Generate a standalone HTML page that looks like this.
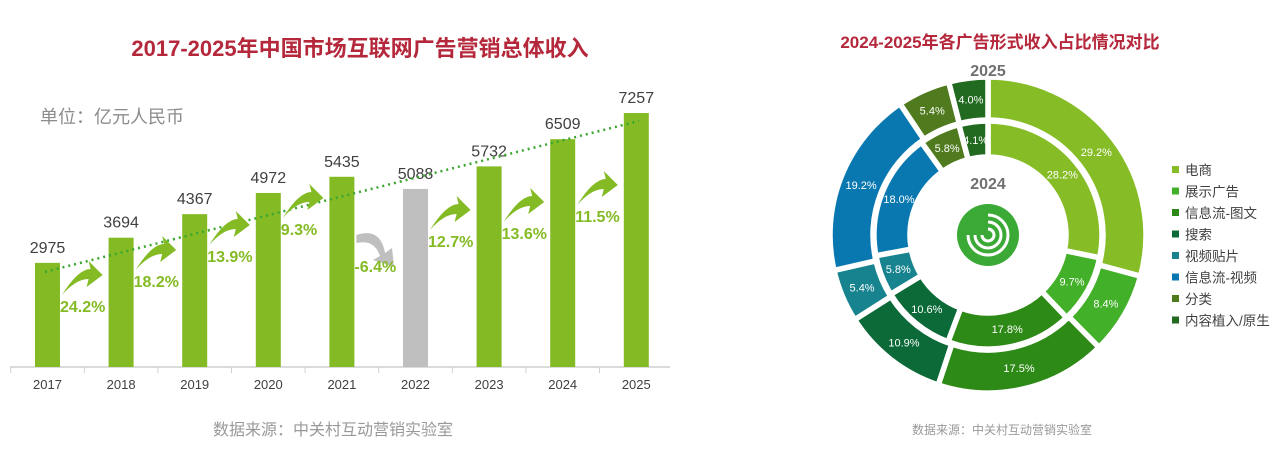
<!DOCTYPE html>
<html><head><meta charset="utf-8"><style>
body{margin:0;background:#fff;width:1280px;height:470px;overflow:hidden;font-family:"Liberation Sans","Noto Sans CJK SC",sans-serif}
svg{position:absolute;left:0;top:0}
</style></head><body>
<svg id="c" width="1280" height="470"></svg>
<script>
const years=["2017","2018","2019","2020","2021","2022","2023","2024","2025"];
const revenue=[2975,3694,4367,4972,5435,5088,5732,6509,7257];
const growth=["24.2%","18.2%","13.9%","9.3%","-6.4%","12.7%","13.6%","11.5%"];
const growthY=[305,280,255,228,265,240,232,215];
const categories=["电商","展示广告","信息流-图文","搜索","视频贴片","信息流-视频","分类","内容植入/原生"];
const share2025=[29.2,8.4,17.5,10.9,5.4,19.2,5.4,4.0];
const share2024=[28.2,9.7,17.8,10.6,5.8,18.0,5.8,4.1];
const colors=["#86bc25","#43b02a","#2e8a17","#0b6a38","#17838f","#0a78b0","#4f7a1d","#226a1f"];

const NS="http://www.w3.org/2000/svg";const svg=document.getElementById('c');
function el(t,a,txt){const e=document.createElementNS(NS,t);for(const k in a)e.setAttribute(k,a[k]);if(txt!==undefined)e.textContent=txt;svg.appendChild(e);return e;}
const base=367,scale=254/7257,x0=35,step=73.6,bw=25;
const xOf=i=>x0+i*step, yOf=v=>base-v*scale;
let t;
t=el('text',{x:360,y:56,'text-anchor':'middle','font-size':22,'font-weight':'bold',fill:'#b5283c'},'2017-2025年中国市场互联网广告营销总体收入');


t=el('text',{x:40,y:123,'font-size':18,fill:'#8c8c8c'},'单位：亿元人民币');


t=el('line',{x1:10,y1:base,x2:670,y2:base,stroke:'#cfcfcf','stroke-width':1.5});


years.forEach((y,i)=>{
 const cx=xOf(i)+bw/2;
 const tk=el('line',{x1:cx-step/2,y1:base,x2:cx-step/2,y2:base+6,stroke:'#cfcfcf'});
 
 
 const r=el('rect',{x:xOf(i),y:yOf(revenue[i]),width:bw,height:revenue[i]*scale,fill:i==5?'#bfbfbf':'#84bb25'});
 
 
 const v=el('text',{x:cx,y:yOf(revenue[i])-10,'text-anchor':'middle','font-size':16,fill:'#404040'},revenue[i]);
 
 
 const l=el('text',{x:cx,y:389,'text-anchor':'middle','font-size':13,fill:'#404040'},y);
 
 
});
t=el('line',{x1:xOf(0)+10,y1:yOf(revenue[0])+9,x2:xOf(8)+15,y2:yOf(revenue[8])+8,stroke:'#3aa62e','stroke-width':2.5,'stroke-dasharray':'2,4'});


growth.forEach((g,i)=>{
 const ly=growthY[i],xs=xOf(i)+bw+2,xe=xOf(i+1)-6;const neg=g[0]=='-';
 const c=neg?'#bfbfbf':'#84bb25';
 let p;
 if(!neg)p=`M${xs},${ly-10} Q${xs+16},${ly-36} ${xe-12},${ly-36} L${xe-14},${ly-44} L${xe},${ly-30} L${xe-16},${ly-18} L${xe-14},${ly-26} Q${xs+14},${ly-26} ${xs},${ly-10}Z`;
 else p=`M${xs},${ly-30} Q${xs+24},${ly-38} ${xe-12},${ly-12} L${xe-5},${ly-17} L${xe-3},${ly+2} L${xe-24},${ly-5} L${xe-17},${ly-9} Q${xs+18},${ly-26} ${xs},${ly-22}Z`;
 const a=el('path',{d:p,fill:c});
 
 
 const tx=el('text',{x:xs-2,y:ly+7,'font-size':16,'font-weight':'bold',fill:'#84bb25'},g);
 
 
});
t=el('text',{x:333,y:435,'text-anchor':'middle','font-size':16,fill:'#999'},'数据来源：中关村互动营销实验室');



// donut
const cx=988,cy=235;
t=el('text',{x:1000,y:48,'text-anchor':'middle','font-size':17,'font-weight':'bold',fill:'#b5283c'},'2024-2025年各广告形式收入占比情况对比');


function arc(r0,r1,a0,a1){const P=(r,a)=>[cx+r*Math.sin(a),cy-r*Math.cos(a)];const L=a1-a0>Math.PI?1:0;
 const [x1,y1]=P(r1,a0),[x2,y2]=P(r1,a1),[x3,y3]=P(r0,a1),[x4,y4]=P(r0,a0);
 return `M${x1},${y1}A${r1},${r1} 0 ${L} 1 ${x2},${y2}L${x3},${y3}A${r0},${r0} 0 ${L} 0 ${x4},${y4}Z`;}
function ring(data,r0,r1,nm){let acc=0;data.forEach((v,i)=>{const a0=acc/100*2*Math.PI,a1=(acc+v)/100*2*Math.PI;acc+=v;
 const p=el('path',{d:arc(r0,r1,a0,a1),fill:colors[i],stroke:'#fff','stroke-width':5.5});
 
 
 const m=(a0+a1)/2,rm=(r0+r1)/2;
 const tx=el('text',{x:cx+rm*Math.sin(m),y:cy-rm*Math.cos(m)+4,'text-anchor':'middle','font-size':11,fill:'#fff'},v.toFixed(1)+'%');
 
 });}
ring(share2025,115,158,'ring-2025');
ring(share2024,78,114,'ring-2024');
t=el('text',{x:cx,y:76,'text-anchor':'middle','font-size':16,'font-weight':'bold',fill:'#707070'},'2025');


t=el('text',{x:cx,y:189,'text-anchor':'middle','font-size':16,'font-weight':'bold',fill:'#707070'},'2024');


t=el('circle',{cx:cx,cy:cy,r:31,fill:'#3aa935'});


[20,13,6].forEach(r=>{const c=el('path',{d:`M${cx-r},${cy} A${r},${r} 0 1 0 ${cx},${cy-r}`,fill:'none',stroke:'#fff','stroke-width':3});
 
 });
categories.forEach((c,i)=>{const y=170+i*21.5;
 const s=el('rect',{x:1172,y:y-4,width:7,height:7,fill:colors[i]});
 
 
 const tx=el('text',{x:1185,y:y+5,'font-size':13.5,fill:'#404040'},c);
 
 });
t=el('text',{x:1002,y:434,'text-anchor':'middle','font-size':12,fill:'#999'},'数据来源：中关村互动营销实验室');


</script></body></html>
